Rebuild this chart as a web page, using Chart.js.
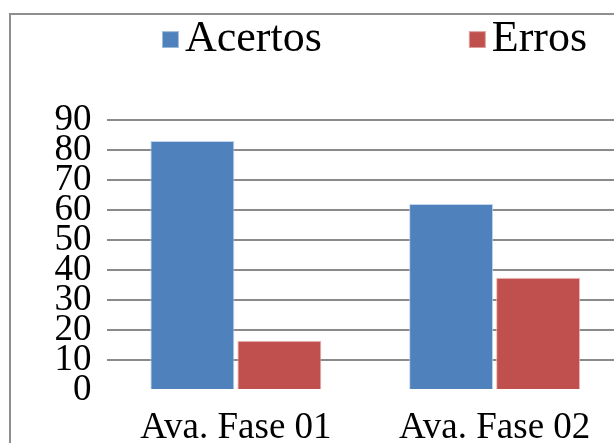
<!DOCTYPE html>
<html>
<head>
<meta charset="utf-8">
<script src="https://cdn.jsdelivr.net/npm/chart.js@4/dist/chart.umd.min.js"></script>
<style>
  html, body { margin: 0; padding: 0; background: #fff; }
  body { width: 614px; height: 443px; overflow: hidden; position: relative; }
  #frame { position: absolute; left: 9px; top: 13px; width: 800px; height: 600px; border: 2px solid #8e8e8e; box-sizing: border-box; }
  #chart { position: absolute; left: -20px; top: 0; }
</style>
</head>
<body>
<div id="frame"></div>
<canvas id="chart" width="652" height="460"></canvas>
<script>
// Categories, series and axis ticks
const categories = ['Ava. Fase 01', 'Ava. Fase 02'];
const seriesNames = ['Acertos', 'Erros'];
const acertos = [83, 62];
const erros = [16.4, 37.4];
const yTicks = [0, 10, 20, 30, 40, 50, 60, 70, 80, 90];

const colors = ['#4F81BD', '#C0504D'];
const edgeColors = ['rgba(190,210,235,0.9)', 'rgba(235,180,178,0.9)'];

Chart.defaults.font.family = '"Liberation Serif", "Times New Roman", serif';
Chart.defaults.color = '#000';

// Legend swatches: a small square sitting at the right end of the marker slot,
// so it ends just before the label text.
const SLOT = 138;      // legend marker slot width
const SQUARE = 17;     // swatch size
function makeSwatch(color) {
  const c = document.createElement('canvas');
  const w = 2 * (SLOT / 2 + 16);
  c.width = w;
  c.height = SQUARE;
  const g = c.getContext('2d');
  g.fillStyle = color;
  g.fillRect(w - SQUARE, 0, SQUARE, SQUARE);
  g.strokeStyle = 'rgba(255,255,255,0.5)';
  g.lineWidth = 1;
  g.strokeRect(w - SQUARE + 0.5, 0.5, SQUARE - 1, SQUARE - 1);
  return c;
}
const swatches = colors.map(makeSwatch);

new Chart(document.getElementById('chart'), {
  type: 'bar',
  data: {
    labels: categories,
    datasets: [
      { label: seriesNames[0], data: acertos, backgroundColor: colors[0], borderColor: edgeColors[0], borderWidth: 1 },
      { label: seriesNames[1], data: erros, backgroundColor: colors[1], borderColor: edgeColors[1], borderWidth: 1 }
    ]
  },
  options: {
    responsive: false,
    animation: false,
    devicePixelRatio: 1,
    layout: { padding: { left: 8, right: 8, top: 7.6, bottom: 9.1 } },
    datasets: { bar: { categoryPercentage: 0.6725, barPercentage: 0.9655 } },
    plugins: {
      tooltip: { enabled: false },
      legend: {
        position: 'top',
        labels: {
          font: { size: 44 },
          usePointStyle: true,
          pointStyleWidth: SLOT,
          padding: 10,
          generateLabels(chart) {
            const items = Chart.defaults.plugins.legend.labels.generateLabels(chart);
            items.forEach((it, i) => { it.pointStyle = swatches[i]; });
            return items;
          }
        }
      }
    },
    scales: {
      x: {
        position: 'bottom',
        grid: { display: false, drawTicks: false },
        border: { display: false },
        ticks: { font: { size: 37 }, padding: 16.5, maxRotation: 0, autoSkip: false },
        afterFit(scale) { scale.height = 60.9; }
      },
      gap: {
        type: 'category',
        position: 'top',
        grid: { display: false, drawTicks: false },
        border: { display: false },
        ticks: { display: false },
        afterFit(scale) { scale.height = 48.4; }
      },
      y: {
        min: 0,
        max: 90,
        grid: {
          drawTicks: false,
          lineWidth: 2,
          color: (ctx) => (ctx.tick && ctx.tick.value === 0 ? 'rgba(0,0,0,0)' : '#8a8a8a')
        },
        border: { display: false },
        afterBuildTicks(scale) { scale.ticks = yTicks.map(v => ({ value: v })); },
        afterFit(scale) { scale.width = 118.5; },
        ticks: { font: { size: 37 }, padding: 15, autoSkip: false }
      }
    }
  }
});
</script>
</body>
</html>
